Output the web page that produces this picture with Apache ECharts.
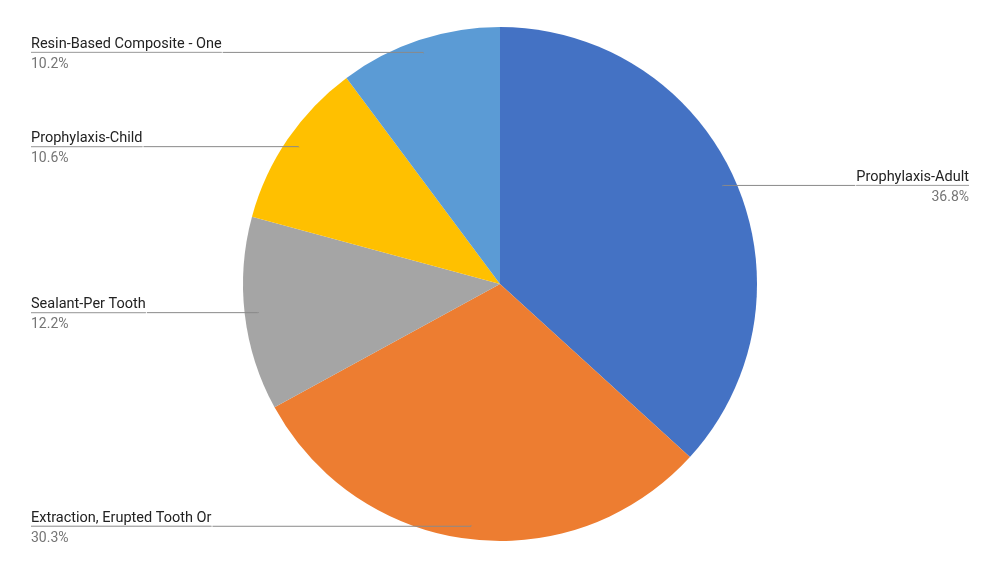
<!DOCTYPE html>
<html>
<head>
<meta charset="utf-8">
<script src="https://cdn.jsdelivr.net/npm/echarts@6/dist/echarts.min.js"></script>
<style>
html,body{margin:0;padding:0;background:#fff;}
#chart{width:1000px;height:572px;}
</style>
</head>
<body>
<div id="chart"></div>
<script>
const categories = ['Prophylaxis-Adult', 'Extraction, Erupted Tooth Or', 'Sealant-Per Tooth', 'Prophylaxis-Child', 'Resin-Based Composite - One'];
const values = [36.8, 30.3, 12.2, 10.6, 10.2];
const colors = ['#4472C4', '#ED7D31', '#A5A5A5', '#FFC000', '#5B9BD5'];

const total = values.reduce((a, b) => a + b, 0);
const data = categories.map((c, i) => ({ name: c, value: values[i] }));

const chart = echarts.init(document.getElementById('chart'), null, { renderer: 'canvas' });
chart.setOption({
  animation: false,
  backgroundColor: '#ffffff',
  color: colors,
  series: [
    {
      type: 'pie',
      z: 1,
      center: [500, 284],
      radius: 257,
      startAngle: 90,
      clockwise: true,
      silent: true,
      label: { show: false },
      labelLine: { show: false },
      itemStyle: { borderWidth: 0 },
      data: data
    },
    {
      type: 'pie',
      z: 5,
      center: [500, 284],
      radius: 243,
      startAngle: 90,
      clockwise: true,
      silent: true,
      avoidLabelOverlap: true,
      itemStyle: { color: 'none', borderWidth: 0 },
      label: {
        show: true,
        position: 'outside',
        alignTo: 'edge',
        edgeDistance: 31,
        distanceToLabelLine: 0,
        fontFamily: 'Roboto',
        formatter: function (p) {
          return '{name|' + p.name + '}\n{hr|}\n{per|' + (p.value / total * 100).toFixed(1) + '%}';
        },
        rich: {
          name: { fontFamily: 'Roboto', fontSize: 14.5, color: '#222222', lineHeight: 24, height: 16, verticalAlign: 'bottom' },
          hr: { borderColor: '#a8a8a8', borderWidth: 1, width: '100%', height: 0, lineHeight: 0 },
          per: { fontFamily: 'Roboto', fontSize: 14, color: '#757575', lineHeight: 24 }
        }
      },
      labelLine: {
        show: true,
        length: 1,
        length2: 5,
        smooth: false,
        lineStyle: { color: '#8a8a8a', width: 1, opacity: 1 }
      },
      data: data
    }
  ]
});
</script>
</body>
</html>
